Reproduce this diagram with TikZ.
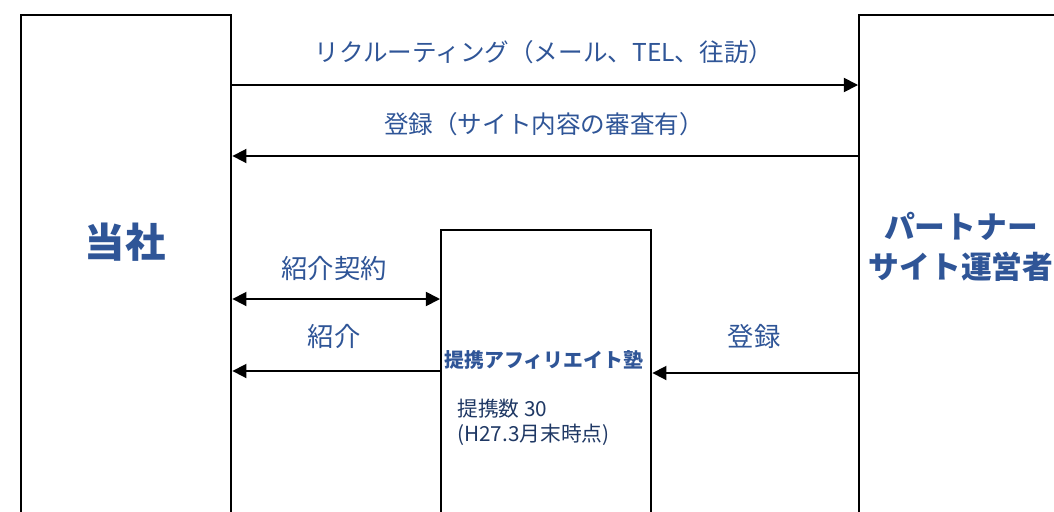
\documentclass[tikz,border=0pt]{standalone}
\usepackage{fontspec}
\setmainfont{Noto Sans CJK JP}
\usetikzlibrary{arrows.meta,positioning}
\definecolor{lblue}{RGB}{47,85,151}
\definecolor{navy}{RGB}{31,56,100}

\begin{document}
\begin{tikzpicture}[x=0.02cm,y=-0.02cm,
		tri/.tip={Triangle[length=8pt,width=8pt]},
		box/.style={draw,line width=1.4pt,anchor=north west,inner sep=0pt},
		arr/.style={line width=1pt,-tri},
		lbl/.style={text=lblue,font=\fontsize{14}{17}\selectfont}]
		\useasboundingbox (0,0) rectangle (1054,511);
		\clip (0,0) rectangle (1054,511);
		% boxes
		\node[box,minimum width=4.2cm,minimum height=12cm] (tosha) at (20,14) {};
		\node[box,minimum width=6cm,minimum height=12cm] (partner) at (858,14) {};
		\node[box,minimum width=4.2cm,minimum height=8cm] (juku) at (440,229) {};
		\node[text=lblue,font=\fontsize{23}{26}\selectfont\bfseries] (toshaLbl) at (125,242) {当社};
		\node[text=lblue,font=\fontsize{17.5}{23}\selectfont\bfseries,align=center] (partnerLbl) at (961,247) {パートナー\\サイト運営者};
		\node[text=lblue,font=\fontsize{11.3}{13}\selectfont\bfseries] (jukuLbl) at (544,360) {提携アフィリエイト塾};
		\node[text=navy,font=\fontsize{11.8}{13.8}\selectfont,align=left,anchor=north west,inner sep=0pt] (jukuNum) at (457,399) {提携数 30\\(H27.3月末時点)};
		% arrows
		\coordinate (y1) at (0,85);
		\coordinate (y2) at (0,156);
		\coordinate (y3) at (0,299);
		\coordinate (y4) at (0,371);
		\coordinate (y5) at (0,373);
		\draw[arr] (tosha.east |- y1) -- (partner.west |- y1);
		\draw[arr] (partner.west |- y2) -- (tosha.east |- y2);
		\draw[line width=1pt,tri-tri] (tosha.east |- y3) -- (juku.west |- y3);
		\draw[arr] (juku.west |- y4) -- (tosha.east |- y4);
		\draw[arr] (partner.west |- y5) -- (juku.east |- y5);
		\node[lbl] (recruit) at (544,52) {リクルーティング（メール、TEL、往訪）};
		\node[lbl] (touroku) at (544,124) {登録（サイト内容の審査有）};
		\node[lbl,font=\fontsize{15}{17}\selectfont] (keiyaku) at (334,268) {紹介契約};
		\node[lbl,font=\fontsize{15}{17}\selectfont] (shokai) at (334,336) {紹介};
		\node[lbl,font=\fontsize{15}{17}\selectfont] (touroku2) at (754,336) {登録};
	\end{tikzpicture}
\end{document}
